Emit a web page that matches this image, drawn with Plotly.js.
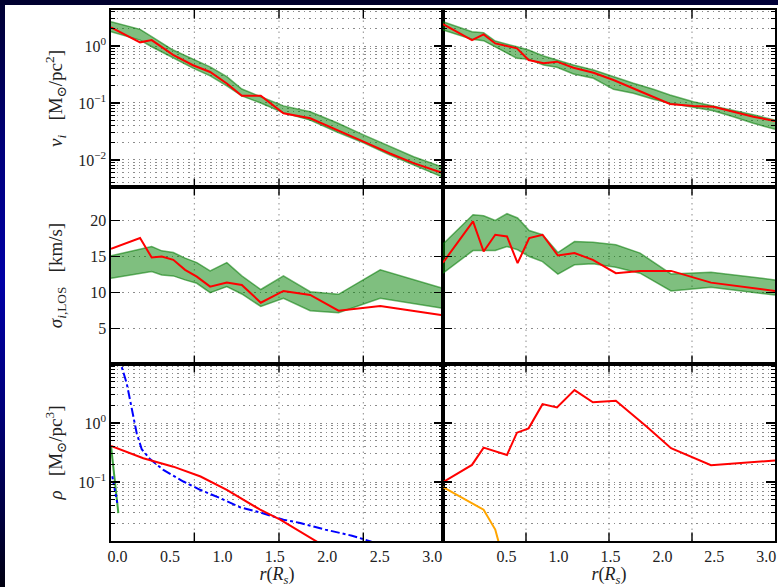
<!DOCTYPE html>
<html>
<head>
<meta charset="utf-8">
<script src="https://cdn.plot.ly/plotly-3.0.1.min.js"></script>
<style>
  html, body { margin:0; padding:0; width:778px; height:587px; overflow:hidden; }
  #frame { position:absolute; left:0; top:0; width:778px; height:587px;
    background: linear-gradient(to bottom, #000030 0%, #00007a 25%, #0000a6 48%, #00007a 70%, #000040 88%, #000010 100%); }
  #topband { position:absolute; left:0; top:0; width:778px; height:5px;
    background: linear-gradient(to right, #000030 0%, #000028 60%, #000038 100%); }
  #white { position:absolute; left:5px; top:5px; width:773px; height:582px; background:#ffffff; }
  #plot { position:absolute; left:0; top:0; width:778px; height:587px; }
</style>
</head>
<body>
<div id="frame"></div>
<div id="topband"></div>
<div id="white"></div>
<div id="plot"></div>
<script>
// ---------- data ----------
// Top-left: nu_i (surface density), component 1
const nuL_x     = [-0.062, 0.215, 0.326, 0.53, 0.72, 0.883, 1.042, 1.185, 1.366, 1.582, 1.837, 2.092, 2.345, 2.598, 2.823, 3.10];
const nuL_model = [2.13, 1.16, 1.27, 0.70, 0.46, 0.35, 0.22, 0.134, 0.134, 0.066, 0.054, 0.034, 0.021, 0.013, 0.0088, 0.0059];
const nuL_hi    = [2.67, 1.96, 1.46, 0.85, 0.59, 0.43, 0.29, 0.176, 0.129, 0.089, 0.070, 0.045, 0.0275, 0.0171, 0.0114, 0.0075];
const nuL_lo    = [1.78, 1.27, 0.97, 0.62, 0.41, 0.30, 0.20, 0.133, 0.100, 0.067, 0.050, 0.031, 0.020, 0.0122, 0.0082, 0.0050];

// Top-right: nu_i, component 2
const nuR_x     = [-0.112, 0.167, 0.279, 0.391, 0.60, 0.712, 0.856, 0.985, 1.144, 1.337, 1.529, 1.721, 1.913, 2.073, 2.298, 2.490, 2.683, 2.875, 3.084];
const nuR_model = [2.43, 1.27, 1.60, 1.11, 0.91, 0.568, 0.497, 0.531, 0.416, 0.340, 0.253, 0.181, 0.129, 0.096, 0.0886, 0.0861, 0.0704, 0.0575, 0.0483];
const nuR_hi    = [2.67, 1.78, 1.71, 1.22, 0.97, 0.85, 0.668, 0.568, 0.464, 0.379, 0.289, 0.222, 0.174, 0.138, 0.105, 0.0886, 0.0753, 0.062, 0.0503];
const nuR_lo    = [1.91, 1.31, 1.24, 0.97, 0.608, 0.585, 0.464, 0.423, 0.323, 0.271, 0.174, 0.148, 0.116, 0.0988, 0.0841, 0.0733, 0.0575, 0.0441, 0.0346];

// Middle-left: sigma_LOS, component 1
const sigL_x     = [-0.062, 0.215, 0.326, 0.422, 0.532, 0.644, 0.756, 0.883, 1.042, 1.185, 1.366, 1.582, 1.837, 2.107, 2.505, 3.10];
const sigL_model = [16.08, 17.58, 14.86, 15.0, 14.54, 13.14, 12.2, 10.8, 11.36, 11.04, 8.56, 10.2, 9.64, 7.44, 8.1, 6.8];
const sigL_bx    = [-0.062, 0.326, 0.422, 0.532, 0.644, 0.756, 0.883, 1.042, 1.185, 1.366, 1.582, 1.837, 2.107, 2.505, 3.10];
const sigL_hi    = [15.1, 16.4, 15.8, 15.56, 14.78, 14.16, 13.0, 14.16, 12.3, 10.4, 12.3, 10.1, 9.73, 13.14, 10.57];
const sigL_lo    = [11.97, 12.9, 12.44, 12.3, 11.74, 11.27, 9.96, 10.8, 9.78, 8.03, 9.17, 7.44, 7.16, 9.17, 7.77];

// Middle-right: sigma_LOS, component 2
const sigR_x     = [-0.112, 0.177, 0.279, 0.391, 0.504, 0.606, 0.718, 0.846, 0.994, 1.154, 1.331, 1.552, 1.785, 2.083, 2.468, 3.084];
const sigR_model = [14.16, 19.9, 15.7, 18.04, 17.8, 14.08, 17.58, 18.04, 15.14, 15.48, 14.54, 12.68, 13.0, 13.0, 11.36, 10.2];
const sigR_hi    = [16.74, 20.84, 20.7, 20.04, 20.98, 20.38, 18.64, 18.04, 15.56, 17.1, 17.0, 16.64, 15.48, 12.58, 12.82, 11.74];
const sigR_lo    = [12.68, 15.84, 15.84, 15.84, 16.4, 15.94, 15.0, 14.3, 12.54, 13.84, 13.98, 13.52, 12.68, 10.2, 10.71, 9.64];

// Bottom-left: rho
const rhoL_x      = [-0.062, 0.091, 0.246, 0.532, 0.792, 1.042, 1.36, 1.551, 1.885, 2.075];
const rhoL_red    = [0.409, 0.323, 0.253, 0.182, 0.124, 0.0738, 0.0339, 0.0230, 0.0101, 0.00635];
const rhoL_bx     = [0.024, 0.040, 0.088, 0.135, 0.183, 0.231, 0.31, 0.437, 0.628, 0.787, 0.978, 1.169, 1.36, 1.582, 1.742, 1.98, 2.123, 2.235, 2.362, 2.505];
const rhoL_blue   = [14.1, 8.96, 4.69, 1.66, 0.670, 0.360, 0.244, 0.161, 0.102, 0.0738, 0.0534, 0.0373, 0.0305, 0.0230, 0.0202, 0.0156, 0.0137, 0.0123, 0.0105, 0.0087];
const rhoL_b2x    = [-0.05, -0.002];
const rhoL_blue2  = [0.125, 0.044];
const rhoL_gx     = [-0.062, -0.024, 0.008];
const rhoL_green  = [0.409, 0.109, 0.0298];

// Bottom-right: rho
const rhoR_x      = [-0.112, 0.167, 0.279, 0.504, 0.600, 0.712, 0.846, 0.985, 1.154, 1.331, 1.552, 1.85, 2.083, 2.468, 3.084];
const rhoR_red    = [0.0995, 0.195, 0.383, 0.288, 0.686, 0.813, 2.09, 1.84, 3.61, 2.24, 2.38, 0.866, 0.374, 0.193, 0.231];
const rhoR_ox     = [-0.112, 0.279, 0.391, 0.423, 0.449];
const rhoR_orange = [0.0819, 0.0339, 0.0156, 0.00986, 0.0066];

// tick labels
const xTickVals   = [0, 0.5, 1, 1.5, 2, 2.5, 3];
const xTickText   = ['0.0', '0.5', '1.0', '1.5', '2.0', '2.5', '3.0'];
const xTickValsR  = [0.5, 1, 1.5, 2, 2.5, 3];
const xTickTextR  = ['0.5', '1.0', '1.5', '2.0', '2.5', '3.0'];
const nuTickVals  = [1, 0.1, 0.01];
const nuTickText  = ['10<sup>0</sup>', '10<sup>\u22121</sup>', '10<sup>\u22122</sup>'];
const sigTickVals = [5, 10, 15, 20];
const sigTickText = ['5', '10', '15', '20'];
const rhoTickVals = [1, 0.1];
const rhoTickText = ['10<sup>0</sup>', '10<sup>\u22121</sup>'];

// vertical grid: each panel is split into quarters (fractions of the panel width)
const quartersL = [0.251, 0.506, 0.76];
const quartersR = [0.25, 0.5, 0.75];

// ---------- styles ----------
const FONT = 'Liberation Serif, DejaVu Serif, serif';
const RED = '#ff0000';
const BAND_FILL = 'rgba(0,128,0,0.5)';
const BAND_EDGE = 'rgba(0,120,0,0.55)';
const GRIDC = '#8c8c8c';
const GDASH = '1.5px,4px';

function band(x, lo, hi, xa, ya) {
  return [
    {x: x, y: lo, xaxis: xa, yaxis: ya, type: 'scatter', mode: 'lines',
     line: {color: BAND_EDGE, width: 1.5}, hoverinfo: 'skip', showlegend: false},
    {x: x, y: hi, xaxis: xa, yaxis: ya, type: 'scatter', mode: 'lines', fill: 'tonexty',
     fillcolor: BAND_FILL, line: {color: BAND_EDGE, width: 1.5}, hoverinfo: 'skip', showlegend: false}
  ];
}
function line(x, y, xa, ya, color, width, dash) {
  return {x: x, y: y, xaxis: xa, yaxis: ya, type: 'scatter', mode: 'lines',
          line: {color: color, width: width, dash: dash || 'solid'}, showlegend: false};
}

const traces = [
  ...band(nuL_x, nuL_lo, nuL_hi, 'x', 'y'),
  line(nuL_x, nuL_model, 'x', 'y', RED, 2),
  ...band(nuR_x, nuR_lo, nuR_hi, 'x2', 'y2'),
  line(nuR_x, nuR_model, 'x2', 'y2', RED, 2),
  ...band(sigL_bx, sigL_lo, sigL_hi, 'x3', 'y3'),
  line(sigL_x, sigL_model, 'x3', 'y3', RED, 2),
  ...band(sigR_x, sigR_lo, sigR_hi, 'x4', 'y4'),
  line(sigR_x, sigR_model, 'x4', 'y4', RED, 2),
  line(rhoL_gx, rhoL_green, 'x5', 'y5', '#3fa33f', 2),
  line(rhoL_bx, rhoL_blue, 'x5', 'y5', '#0000ff', 2, 'dashdot'),
  line(rhoL_b2x, rhoL_blue2, 'x5', 'y5', '#0000ff', 2, 'dot'),
  line(rhoL_x, rhoL_red, 'x5', 'y5', RED, 2),
  line(rhoR_ox, rhoR_orange, 'x6', 'y6', '#ffa500', 2),
  line(rhoR_x, rhoR_red, 'x6', 'y6', RED, 2)
];

// dotted quarter gridlines + inside tick marks at top and bottom of each panel
const panels = [['x', 'y', quartersL], ['x2', 'y2', quartersR], ['x3', 'y3', quartersL],
                ['x4', 'y4', quartersR], ['x5', 'y5', quartersL], ['x6', 'y6', quartersR]];
const shapes = [];
panels.forEach(([xa, ya, qs]) => {
  qs.forEach(q => {
    shapes.push({type: 'line', xref: xa + ' domain', yref: ya + ' domain', x0: q, x1: q, y0: 0, y1: 1,
                 layer: 'below', line: {color: GRIDC, width: 1, dash: GDASH}});
    shapes.push({type: 'line', xref: xa + ' domain', yref: ya + ' domain', x0: q, x1: q, y0: 0, y1: 0.048,
                 layer: 'above', line: {color: '#000', width: 1.4}});
    shapes.push({type: 'line', xref: xa + ' domain', yref: ya + ' domain', x0: q, x1: q, y0: 0.952, y1: 1,
                 layer: 'above', line: {color: '#000', width: 1.4}});
  });
});

const rangeL = [-0.062, 3.103];
const rangeR = [-0.112, 3.084];

function plainX(domain, anchor, range) {
  return {domain: domain, anchor: anchor, range: range, zeroline: false, showgrid: false,
    showline: true, mirror: true, linecolor: '#000', linewidth: 1.6, ticks: '', showticklabels: false};
}
function labelX(domain, anchor, range, vals, text) {
  return {domain: domain, anchor: anchor, range: range, zeroline: false, showgrid: false,
    showline: true, mirror: true, linecolor: '#000', linewidth: 1.6, ticks: '',
    tickmode: 'array', tickvals: vals, ticktext: text,
    tickfont: {family: FONT, size: 16, color: '#222'},
    title: {text: '<i>r</i>(<i>R</i><sub><i>s</i></sub>)', font: {family: FONT, size: 18, color: '#222'}, standoff: 4}};
}
function logY(domain, anchor, range, vals, text, title) {
  const a = {domain: domain, anchor: anchor, type: 'log', range: range, zeroline: false,
    showline: true, mirror: 'ticks', linecolor: '#000', linewidth: 1.6,
    tickmode: 'array', tickvals: vals, showticklabels: !!text,
    ticks: 'inside', ticklen: 9, tickwidth: 1.3, tickcolor: '#000',
    showgrid: true, griddash: GDASH, gridcolor: GRIDC, gridwidth: 1,
    tickfont: {family: FONT, size: 16, color: '#222'},
    minor: {tickmode: 'linear', dtick: 'D1', ticks: 'inside', ticklen: 4, tickwidth: 1, tickcolor: '#000',
            showgrid: true, griddash: GDASH, gridcolor: GRIDC, gridwidth: 1}};
  if (text) a.ticktext = text;
  if (title) a.title = {text: title, font: {family: FONT, size: 19, color: '#222'}};
  return a;
}
function linY(domain, anchor, range, labels, title) {
  const a = {domain: domain, anchor: anchor, range: range, zeroline: false,
    showline: true, mirror: 'ticks', linecolor: '#000', linewidth: 1.6,
    tickmode: 'array', tickvals: sigTickVals, showticklabels: labels,
    ticks: 'inside', ticklen: 9, tickwidth: 1.3, tickcolor: '#000',
    showgrid: true, griddash: GDASH, gridcolor: GRIDC, gridwidth: 1,
    tickfont: {family: FONT, size: 16, color: '#222'}};
  if (labels) a.ticktext = sigTickText;
  if (title) a.title = {text: title, font: {family: FONT, size: 19, color: '#222'}};
  return a;
}

const rowT = [0.6667, 1], rowM = [0.3333, 0.6667], rowB = [0, 0.3333];
const colL = [0, 0.5], colR = [0.5, 1];
const nuRange = [-2.474, 0.632];
const sigRange = [0, 24.71];
const rhoRange = [-2, 1];

const layout = {
  width: 778, height: 587,
  margin: {l: 111, r: 3, t: 10, b: 46},
  paper_bgcolor: 'rgba(0,0,0,0)', plot_bgcolor: 'rgba(0,0,0,0)',
  showlegend: false,
  font: {family: FONT, color: '#222'},
  shapes: shapes,
  xaxis:  plainX(colL, 'y',  rangeL),
  xaxis2: plainX(colR, 'y2', rangeR),
  xaxis3: plainX(colL, 'y3', rangeL),
  xaxis4: plainX(colR, 'y4', rangeR),
  xaxis5: labelX(colL, 'y5', rangeL, xTickVals, xTickText),
  xaxis6: labelX(colR, 'y6', rangeR, xTickValsR, xTickTextR),
  yaxis:  logY(rowT, 'x',  nuRange, nuTickVals, nuTickText,
               '<i>ν</i><sub><i>i</i></sub>   [M<sub>⊙</sub>/pc<sup>2</sup>]'),
  yaxis2: logY(rowT, 'x2', nuRange, nuTickVals, null),
  yaxis3: linY(rowM, 'x3', sigRange, true,
               '<i>σ</i><sub><i>i</i>,LOS</sub>   [km/s]'),
  yaxis4: linY(rowM, 'x4', sigRange, false),
  yaxis5: logY(rowB, 'x5', rhoRange, rhoTickVals, rhoTickText,
               '<i>ρ</i>   [M<sub>⊙</sub>/pc<sup>3</sup>]'),
  yaxis6: logY(rowB, 'x6', rhoRange, rhoTickVals, null)
};

Plotly.newPlot('plot', traces, layout, {staticPlot: true, displayModeBar: false});
</script>
</body>
</html>
